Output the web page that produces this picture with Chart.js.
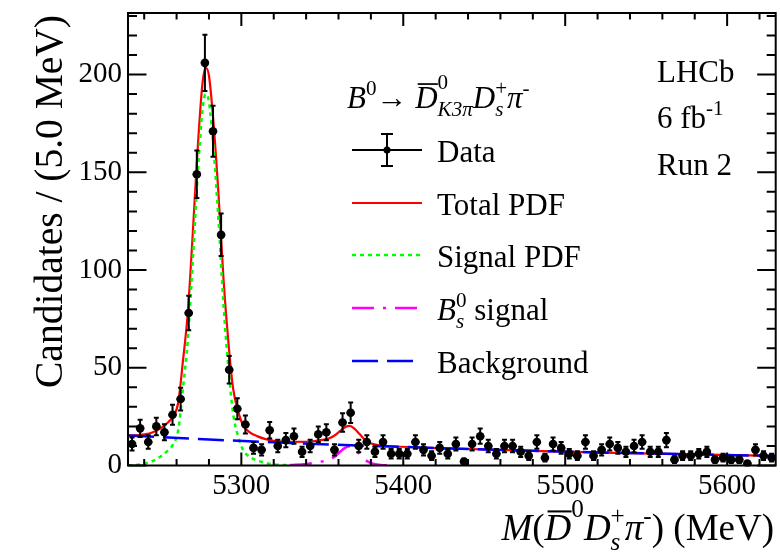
<!DOCTYPE html>
<html>
<head>
<meta charset="utf-8">
<script src="https://cdn.jsdelivr.net/npm/chart.js@4.4.1/dist/chart.umd.min.js"></script>
<style>
html,body{margin:0;padding:0;background:#fff;}
#wrap{position:relative;width:780px;height:556px;}
</style>
</head>
<body>
<div id="wrap"><canvas id="c" width="780" height="556"></canvas></div>
<script>
// B0 -> D0bar(K3pi) Ds+ pi- invariant-mass spectrum, 5 MeV bins from 5230 to 5630 MeV
const binLow = 5230;
const binWidth = 5;
const counts = [11,19,12,20,17,26,34,78,149,206,
                171,118,49,29,21,9,8,18,10,13,
                15,7,10,16,17,8,22,27,10,12,
                7,12,6,6,6,12,8,5,9,6,
                11,2,11,15,10,6,10,10,7,5,
                12,4,11,9,6,5,12,5,8,11,
                9,7,10,12,7,7,13,3,5,5,
                6,7,3,4,3,3,1,8,5,4];

// Fit components, sampled in MeV
const totalX = [5230,5235,5240,5245,5250,5255,5258,5261,5264,5267,5270,5273,5276,5278,5280,5283,5286,5289,5292,5295,5298,5301,5305,5310,5315,5320,5330,5340,5346,5350,5354,5358,5361,5364,5367,5370,5373,5376,5379,5382,5386,5392,5430,5480,5530,5580,5630];
const totalY = [15.4,15.4,15.9,16.9,19.0,22.3,25.2,32.1,54,78.9,118.8,161.7,195.6,203.5,199.4,173.3,137.2,95.1,63,38.9,27.8,20.7,17.1,14.9,13.5,12.6,12.1,12.15,12.6,13.1,13.8,15.6,17.7,19.6,20.3,18.7,16.1,13.4,11.7,10.8,10.2,9.85,8.7,7.5,6.5,5.7,4.9];

const signalX = [5230,5235,5240,5245,5250,5255,5258,5261,5264,5267,5270,5273,5276,5278,5280,5283,5286,5289,5292,5295,5298,5301,5305,5310,5315,5320,5330,5345];
const signalY = [0.1,0.3,1.0,2.2,4.5,8,11,18,40,65,105,148,182,190,186,160,124,82,50,26,15,8,4.5,2.5,1.3,0.6,0.2,0.0];

const bsX = [5330,5340,5346,5350,5354,5358,5361,5364,5367,5370,5373,5376,5379,5382,5386,5392];
const bsY = [0.2,0.8,1.5,2.1,2.9,4.8,7.0,9.0,9.8,8.3,5.8,3.2,1.6,0.8,0.3,0.05];

const bkgX = [5230,5280,5330,5380,5430,5480,5530,5580,5630];
const bkgY = [15.3,13.3,11.5,10.0,8.7,7.5,6.5,5.7,4.9];

const xTickValues = [5300,5400,5500,5600];
const yTickValues = [0,50,100,150,200];
const xMinorStep = 20;
const yMinorStep = 10;

const SERIF = '"Liberation Serif","Times New Roman",serif';
const binCenters = counts.map((_, i) => binLow + (i + 0.5) * binWidth);
const pts = (xs, ys) => xs.map((x, i) => ({x, y: ys[i]}));

// ---------- rich text (super/subscripts, overbars) ----------
function fontFor(p, size) {
  const s = p.pos ? size * 0.68 : size;
  return (p.it ? 'italic ' : '') + s.toFixed(1) + 'px ' + SERIF;
}
function runRich(ctx, x, y, parts, size, draw) {
  let cx = x, pending = 0;
  for (const p of parts) {
    ctx.font = fontFor(p, size);
    const w = ctx.measureText(p.t).width;
    let dy = p.pos === 'sup' ? -0.42 * size : p.pos === 'sub' ? 0.26 * size : 0;
    if (p.dy !== undefined) dy = p.dy * size;
    if (draw) {
      ctx.fillText(p.t, cx + (p.dx || 0) * size, y + dy);
      if (p.bar) ctx.fillRect(cx + 0.08 * size, y - 0.8 * size, w * 0.9, Math.max(1.6, size * 0.055));
    }
    if (p.stack) pending = Math.max(pending, w);
    else { cx += Math.max(w, pending); pending = 0; }
  }
  return cx - x;
}
function drawRich(ctx, x, y, parts, size, align) {
  ctx.save();
  ctx.textBaseline = 'alphabetic';
  ctx.textAlign = 'left';
  ctx.fillStyle = '#000';
  const w = runRich(ctx, 0, 0, parts, size, false);
  const x0 = align === 'right' ? x - w : x;
  runRich(ctx, x0, y, parts, size, true);
  ctx.restore();
}

const titleParts = [
  {t:'B', it:1}, {t:'0', pos:'sup'}, {t:'\u2192'}, {t:' '},
  {t:'D', it:1, bar:1}, {t:'0', pos:'sup', dy:-0.62, stack:1}, {t:'K3\u03C0', pos:'sub', it:1},
  {t:'D', it:1}, {t:'+', pos:'sup', stack:1}, {t:'s', pos:'sub', it:1},
  {t:'\u03C0', it:1}, {t:'-', pos:'sup'}
];
const xTitleParts = [
  {t:'M', it:1}, {t:'('}, {t:'D', it:1, bar:1}, {t:'0', pos:'sup', dy:-0.62},
  {t:'D', it:1}, {t:'+', pos:'sup', stack:1}, {t:'s', pos:'sub', it:1},
  {t:'\u03C0', it:1}, {t:'-', pos:'sup'}, {t:')'}, {t:' (MeV)'}
];

// ---------- error bars for the data points ----------
const errorBars = {
  id: 'errorBars',
  beforeDatasetDraw(chart, args) {
    if (args.index !== 0) return;
    const {ctx, scales: {x, y}} = chart;
    ctx.save();
    ctx.strokeStyle = '#000';
    ctx.lineWidth = 2;
    counts.forEach((n, i) => {
      const e = Math.sqrt(n);
      const px = x.getPixelForValue(binCenters[i]);
      const py = y.getPixelForValue(n);
      const top = y.getPixelForValue(n + e);
      const bot = y.getPixelForValue(Math.max(n - e, 0));
      const hl = x.getPixelForValue(binCenters[i] - binWidth / 2);
      const hr = x.getPixelForValue(binCenters[i] + binWidth / 2);
      ctx.beginPath();
      ctx.moveTo(px, top); ctx.lineTo(px, bot);
      ctx.moveTo(px - 2.5, top); ctx.lineTo(px + 2.5, top);
      ctx.moveTo(px - 2.5, bot); ctx.lineTo(px + 2.5, bot);
      ctx.moveTo(hl, py); ctx.lineTo(hr, py);
      ctx.stroke();
    });
    ctx.restore();
  }
};

// ---------- frame, inward ticks, titles, legend ----------
const decorations = {
  id: 'decorations',
  afterDraw(chart) {
    const {ctx, chartArea: a, scales: {x, y}} = chart;
    ctx.save();
    ctx.strokeStyle = '#000';
    ctx.lineWidth = 2;
    ctx.strokeRect(a.left, a.top, a.right - a.left, a.bottom - a.top);
    ctx.beginPath();
    for (let v = Math.ceil(x.min / xMinorStep) * xMinorStep; v <= x.max; v += xMinorStep) {
      const px = x.getPixelForValue(v);
      const len = xTickValues.includes(v) ? 13 : 6.5;
      ctx.moveTo(px, a.bottom); ctx.lineTo(px, a.bottom - len);
      ctx.moveTo(px, a.top); ctx.lineTo(px, a.top + len);
    }
    for (let v = 0; v <= y.max; v += yMinorStep) {
      const py = y.getPixelForValue(v);
      const len = yTickValues.includes(v) ? 18.5 : 9;
      ctx.moveTo(a.left, py); ctx.lineTo(a.left + len, py);
      ctx.moveTo(a.right, py); ctx.lineTo(a.right - len, py);
    }
    ctx.stroke();

    // axis titles
    ctx.fillStyle = '#000';
    ctx.save();
    ctx.translate(62, a.top + 2);
    ctx.rotate(-Math.PI / 2);
    ctx.font = '39.5px ' + SERIF;
    ctx.textAlign = 'right';
    ctx.textBaseline = 'alphabetic';
    ctx.fillText('Candidates / (5.0 MeV)', 0, 0);
    ctx.restore();
    drawRich(ctx, 774, 540, xTitleParts, 37, 'right');

    // experiment labels
    ctx.font = '31px ' + SERIF;
    ctx.textAlign = 'left';
    ctx.fillText('LHCb', 657, 82);
    drawRich(ctx, 657, 128, [{t:'6 fb'}, {t:'-1', pos:'sup'}], 31);
    ctx.font = '31px ' + SERIF;
    ctx.fillText('Run 2', 657, 175);

    // legend
    const L = {x1: 352, x2: 422, tx: 437};
    drawRich(ctx, 347, 108, titleParts, 31);
    const rows = [162, 215, 267, 320, 373];
    ctx.font = '31px ' + SERIF;
    ctx.fillText('Data', L.tx, rows[0]);
    ctx.fillText('Total PDF', L.tx, rows[1]);
    ctx.fillText('Signal PDF', L.tx, rows[2]);
    drawRich(ctx, L.tx, rows[3], [{t:'B', it:1}, {t:'0', pos:'sup', stack:1}, {t:'s', pos:'sub', it:1}, {t:' signal'}], 31);
    ctx.font = '31px ' + SERIF;
    ctx.fillText('Background', L.tx, rows[4]);

    const ds = chart.data.datasets;
    const sample = (d, yy) => {
      ctx.save();
      ctx.strokeStyle = d.borderColor;
      ctx.lineWidth = d.borderWidth;
      ctx.setLineDash(d.borderDash || []);
      ctx.beginPath(); ctx.moveTo(L.x1, yy); ctx.lineTo(L.x2, yy); ctx.stroke();
      ctx.restore();
    };
    // data entry: marker with error bar
    const dy0 = rows[0] - 12, mx = (L.x1 + L.x2) / 2;
    ctx.lineWidth = 2;
    ctx.setLineDash([]);
    ctx.beginPath();
    ctx.moveTo(L.x1, dy0); ctx.lineTo(L.x2, dy0);
    ctx.moveTo(mx, dy0 - 16); ctx.lineTo(mx, dy0 + 16);
    ctx.moveTo(mx - 6, dy0 - 16); ctx.lineTo(mx + 6, dy0 - 16);
    ctx.moveTo(mx - 6, dy0 + 16); ctx.lineTo(mx + 6, dy0 + 16);
    ctx.stroke();
    ctx.beginPath(); ctx.arc(mx, dy0, 3.5, 0, 2 * Math.PI); ctx.fill();
    sample(ds[4], rows[1] - 12);
    sample(ds[3], rows[2] - 12);
    sample(ds[2], rows[3] - 12);
    sample(ds[1], rows[4] - 12);
    ctx.restore();
  }
};

const tickFont = {family: SERIF, size: 29};
new Chart(document.getElementById('c'), {
  type: 'line',
  data: {
    datasets: [
      {label: 'Data', data: pts(binCenters, counts), showLine: false, pointRadius: 4.3,
       pointBackgroundColor: '#000', pointBorderColor: '#000', pointBorderWidth: 0, order: 0},
      {label: 'Background', data: pts(bkgX, bkgY), borderColor: '#0000ff', borderWidth: 2.5,
       borderDash: [26, 9], pointRadius: 0, order: 1},
      {label: 'Bs signal', data: pts(bsX, bsY), borderColor: '#ff00ff', borderWidth: 2.5,
       borderDash: [22, 9, 3, 9], pointRadius: 0, cubicInterpolationMode: 'monotone', order: 2},
      {label: 'Signal PDF', data: pts(signalX, signalY), borderColor: '#00ff00', borderWidth: 2.5,
       borderDash: [4, 4], pointRadius: 0, cubicInterpolationMode: 'monotone', order: 3},
      {label: 'Total PDF', data: pts(totalX, totalY), borderColor: '#ff0000', borderWidth: 2.2,
       pointRadius: 0, cubicInterpolationMode: 'monotone', order: 4}
    ]
  },
  options: {
    responsive: false,
    animation: false,
    devicePixelRatio: 1,
    layout: {padding: {top: 13, right: 3, left: 0, bottom: 0}},
    plugins: {legend: {display: false}, tooltip: {enabled: false}},
    scales: {
      x: {
        type: 'linear', min: binLow, max: binLow + counts.length * binWidth,
        grid: {display: false, drawTicks: false}, border: {display: false},
        ticks: {font: tickFont, color: '#000', padding: 3, maxRotation: 0, autoSkip: false,
                callback: v => String(v)},
        afterBuildTicks: s => { s.ticks = xTickValues.map(v => ({value: v})); },
        afterFit: s => { s.height = 90.5; s.paddingLeft = 0; s.paddingRight = 0; }
      },
      y: {
        type: 'linear', min: 0, max: 231.5,
        grid: {display: false, drawTicks: false}, border: {display: false},
        ticks: {font: tickFont, color: '#000', padding: 6, autoSkip: false,
                callback: v => String(v)},
        afterBuildTicks: s => { s.ticks = yTickValues.map(v => ({value: v})); },
        afterFit: s => { s.width = 128; s.paddingTop = 0; s.paddingBottom = 0; }
      }
    }
  },
  plugins: [errorBars, decorations]
});
</script>
</body>
</html>
